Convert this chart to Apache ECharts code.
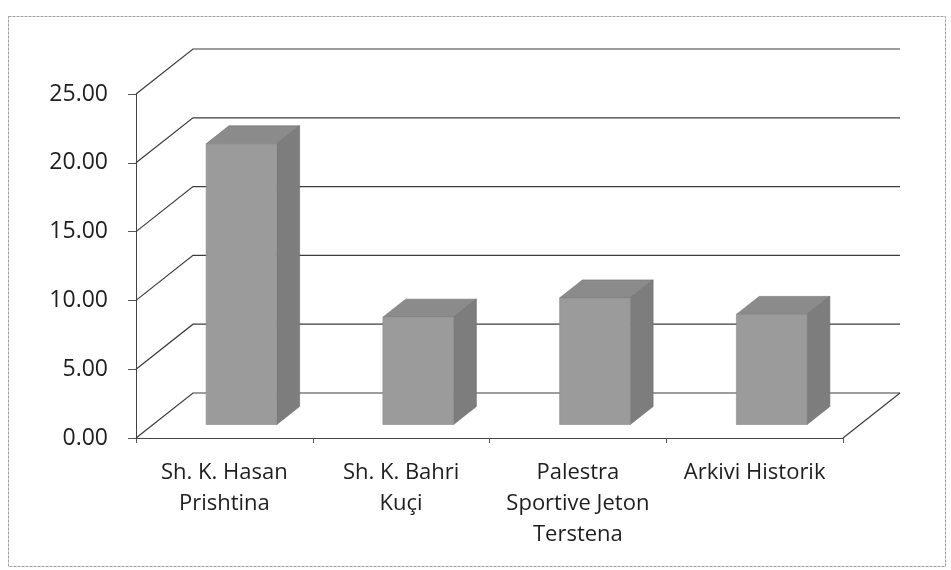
<!DOCTYPE html>
<html>
<head>
<meta charset="utf-8">
<script src="https://cdn.jsdelivr.net/npm/echarts@6/dist/echarts.min.js"></script>
<style>html,body{margin:0;padding:0;background:#fff;}#c{width:951px;height:570px;}</style>
</head>
<body>
<div id="c"></div>
<script>
var categories = ["Sh. K. Hasan\nPrishtina", "Sh. K. Bahri\nKuçi", "Palestra\nSportive Jeton\nTerstena", "Arkivi Historik"];
var values = [20.4, 7.8, 9.2, 8.0];
var yTicks = [0, 5, 10, 15, 20, 25];

var DX = 57, DY = -45;           // depth of the 3D box
var F0 = 0.3, FD = 0.4;          // bar front position & depth as fractions of box depth
var FONT = '"Open Sans"';

var chart = echarts.init(document.getElementById('c'), null, {renderer: 'canvas'});
chart.setOption({
  backgroundColor: '#ffffff',
  animation: false,
  grid: {left: 136, right: 108, top: 94, bottom: 132},
  xAxis: {
    type: 'category',
    data: categories,
    boundaryGap: true,
    axisLine: {show: true, lineStyle: {color: '#444', width: 1}},
    axisTick: {show: true, length: 5, lineStyle: {color: '#555'}},
    axisLabel: {interval: 0, margin: 19, fontFamily: FONT, fontSize: 22, lineHeight: 31, color: '#1e1e1e', align: 'center'},
    splitLine: {show: false}
  },
  yAxis: {
    type: 'value',
    min: 0, max: 25, interval: 5,
    axisLine: {show: true, lineStyle: {color: '#444', width: 1}},
    axisTick: {show: true, length: 8, lineStyle: {color: '#555'}},
    axisLabel: {margin: 28, fontFamily: FONT, fontSize: 23, color: '#1e1e1e', formatter: function (v) { return v.toFixed(2); }},
    splitLine: {show: false}
  },
  graphic: [{
    type: 'rect', shape: {x: 8.5, y: 16.5, width: 937, height: 550},
    style: {fill: null, stroke: '#a0a0a0', lineWidth: 1, lineDash: [3, 1]}, silent: true, z: -10
  }],
  series: [
    {
      type: 'custom',
      z: 1,
      data: yTicks.map(function (t) { return [0, t]; }),
      renderItem: function (params, api) {
        var cs = params.coordSys;
        var y = api.coord([0, api.value(1)])[1];
        var children = [{
          type: 'polyline',
          shape: {points: [[cs.x, y], [cs.x + DX, y + DY], [cs.x + cs.width + DX, y + DY]]},
          style: {stroke: '#3c3c3c', lineWidth: 1.2, fill: null}
        }];
        if (api.value(1) === 0) {
          children.push({
            type: 'line',
            shape: {x1: cs.x + cs.width, y1: y, x2: cs.x + cs.width + DX, y2: y + DY},
            style: {stroke: '#3c3c3c', lineWidth: 1.2}
          });
        }
        return {type: 'group', children: children};
      }
    },
    {
      type: 'custom',
      z: 2,
      data: values.map(function (v, i) { return [i, v]; }),
      renderItem: function (params, api) {
        var base = api.coord([api.value(0), 0]);
        var top = api.coord([api.value(0), api.value(1)]);
        var band = api.size([1, 0])[0];
        var w = band * 0.4;
        var ox = DX * F0, oy = DY * F0;
        var bx = DX * FD, by = DY * FD;
        var x0 = base[0] - w / 2 + ox, x1 = base[0] + w / 2 + ox;
        var yb = base[1] + oy, yt = top[1] + oy;
        return {
          type: 'group',
          children: [
            {type: 'polygon', shape: {points: [[x0, yt], [x1, yt], [x1 + bx, yt + by], [x0 + bx, yt + by]]},
             style: {fill: '#8b8b8b', stroke: '#6e6e6e', lineWidth: 0.6}},
            {type: 'polygon', shape: {points: [[x1, yt], [x1 + bx, yt + by], [x1 + bx, yb + by], [x1, yb]]},
             style: {fill: '#7d7d7d', stroke: '#6e6e6e', lineWidth: 0.6}},
            {type: 'rect', shape: {x: x0, y: yt, width: w, height: yb - yt},
             style: {fill: '#9b9b9b', stroke: '#8a8a8a', lineWidth: 0.6}}
          ]
        };
      }
    }
  ]
});
</script>
</body>
</html>
